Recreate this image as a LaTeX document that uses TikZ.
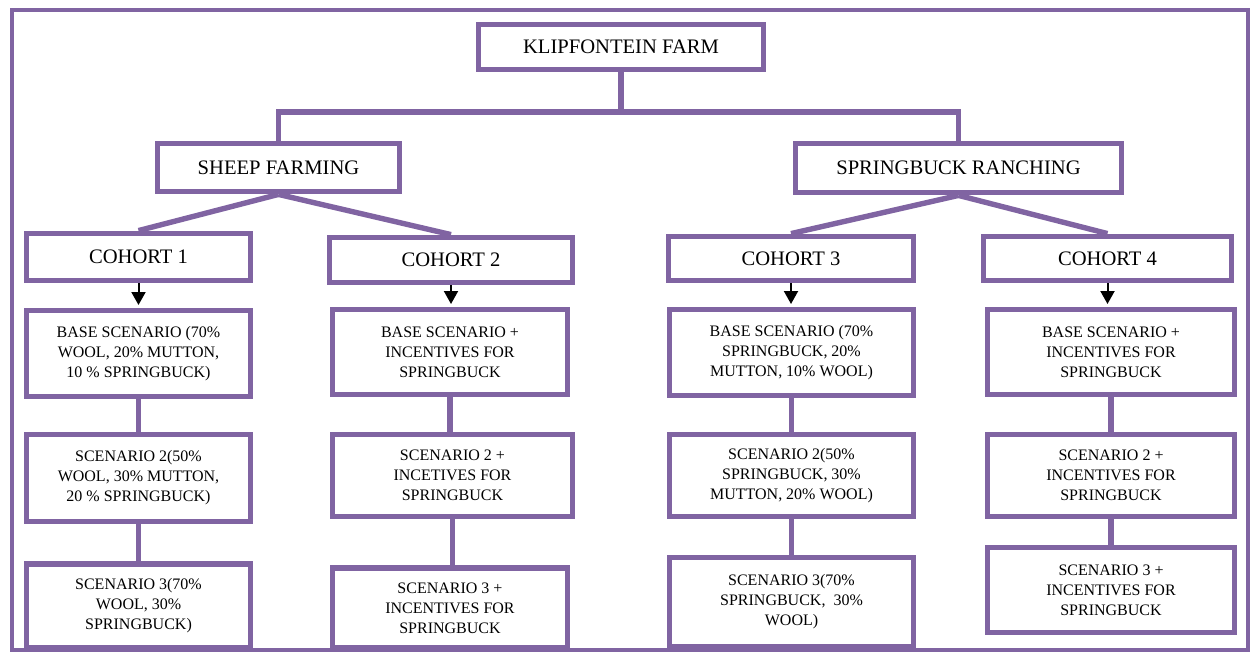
\documentclass[tikz,border=0pt]{standalone}
\usepackage{fontspec}
\setmainfont{Liberation Serif}
\usetikzlibrary{arrows.meta}
\definecolor{farmpurple}{HTML}{8064A2}

\tikzstyle{frame} = [draw=farmpurple, line width=2pt]
\tikzstyle{box} = [draw=farmpurple, line width=2.9pt, fill=white, align=center, font=\fontsize{10.3}{12}\selectfont, inner sep=0pt]
\tikzstyle{scen} = [box, font=\fontsize{8}{10}\selectfont]
\tikzstyle{link} = [draw=farmpurple, line width=2.7pt]
\tikzstyle{arr} = [-{Triangle[width=7pt,length=6.5pt]}, line width=1pt, shorten >=1.3pt]

\begin{document}
\begin{tikzpicture}[x=0.5pt, y=-0.5pt]
\useasboundingbox (0,0) rectangle (1251,652);
\draw[frame] (12,10) rectangle (1248,650);

\node[box, minimum width=142.5pt, minimum height=22.5pt] (farm) at (621,47) {KLIPFONTEIN FARM};
\node[box, minimum width=121pt, minimum height=24pt] (sheep) at (278.5,167.5) {SHEEP FARMING};
\node[box, minimum width=163pt, minimum height=24.5pt] (spring) at (958.5,168) {SPRINGBUCK RANCHING};

\node[box, minimum width=112pt, minimum height=23.5pt] (c1) at (138.5,257) {COHORT 1};
\node[box, minimum width=121.5pt, minimum height=22.5pt] (c2) at (451,260) {COHORT 2};
\node[box, minimum width=122.5pt, minimum height=22pt] (c3) at (791,258.5) {COHORT 3};
\node[box, minimum width=124pt, minimum height=22pt] (c4) at (1107.5,258.5) {COHORT 4};

\node[scen, minimum width=112pt, minimum height=43pt] (base1) at (138.5,353.5) {BASE SCENARIO (70\%\\WOOL, 20\% MUTTON,\\10 \% SPRINGBUCK)};
\node[scen, minimum width=117.5pt, minimum height=42.5pt] (base2) at (450,352) {BASE SCENARIO +\\INCENTIVES FOR\\SPRINGBUCK};
\node[scen, minimum width=122pt, minimum height=43pt] (base3) at (791.5,352.5) {BASE SCENARIO (70\%\\SPRINGBUCK, 20\%\\MUTTON, 10\% WOOL)};
\node[scen, minimum width=123.5pt, minimum height=42.5pt] (base4) at (1111,352) {BASE SCENARIO +\\INCENTIVES FOR\\SPRINGBUCK};

\node[scen, minimum width=112pt, minimum height=43.5pt] (sc21) at (138.5,478) {SCENARIO 2(50\%\\WOOL, 30\% MUTTON,\\20 \% SPRINGBUCK)};
\node[scen, minimum width=120pt, minimum height=41pt] (sc22) at (452.5,475.5) {SCENARIO 2 +\\INCETIVES FOR\\SPRINGBUCK};
\node[scen, minimum width=122pt, minimum height=41pt] (sc23) at (791.5,475.5) {SCENARIO 2(50\%\\SPRINGBUCK, 30\%\\MUTTON, 20\% WOOL)};
\node[scen, minimum width=123.5pt, minimum height=41pt] (sc24) at (1111,475.5) {SCENARIO 2 +\\INCENTIVES FOR\\SPRINGBUCK};

\node[scen, minimum width=112pt, minimum height=42pt] (sc31) at (138.5,606) {SCENARIO 3(70\%\\WOOL, 30\%\\SPRINGBUCK)};
\node[scen, minimum width=117.5pt, minimum height=40pt] (sc32) at (450,608) {SCENARIO 3 +\\INCENTIVES FOR\\SPRINGBUCK};
\node[scen, minimum width=122pt, minimum height=44.5pt] (sc33) at (791.5,602) {SCENARIO 3(70\%\\SPRINGBUCK,~~30\%\\WOOL)};
\node[scen, minimum width=123.5pt, minimum height=42.5pt] (sc34) at (1111,590) {SCENARIO 3 +\\INCENTIVES FOR\\SPRINGBUCK};

\coordinate (fork) at (621,112);
\draw[link] (farm.south) -- (fork);
\draw[link] (sheep.north) |- (fork) -| (spring.north);

\draw[link] (sheep.south) -- (c1.north);
\draw[link] (sheep.south) -- (c2.north);
\draw[link] (spring.south) -- (c3.north);
\draw[link] (spring.south) -- (c4.north);

\foreach \i in {1,2,3,4}
{
  \draw[arr] (c\i.south) -- (c\i.south |- base\i.north);
  \draw[link] (base\i.south) -- (base\i.south |- sc2\i.north);
  \draw[link] (sc2\i.south) -- (sc2\i.south |- sc3\i.north);
}
\end{tikzpicture}
\end{document}
